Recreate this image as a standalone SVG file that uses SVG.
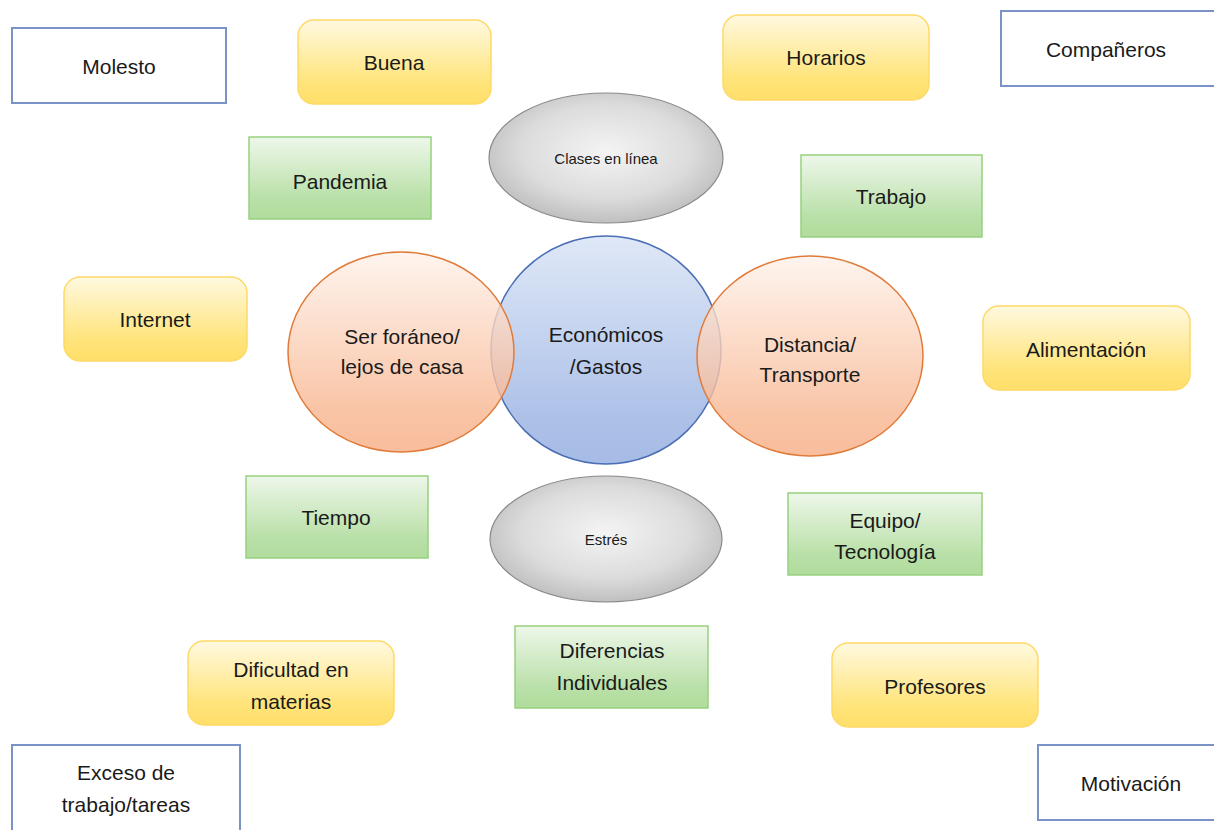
<svg xmlns="http://www.w3.org/2000/svg" width="1214" height="830" viewBox="0 0 1214 830">
<defs>
<linearGradient id="gY" x1="0" y1="0" x2="0" y2="1"><stop offset="0" stop-color="#fff9e0"/><stop offset="0.75" stop-color="#ffe47a"/><stop offset="1" stop-color="#ffdf6a"/></linearGradient>
<linearGradient id="gG" x1="0" y1="0" x2="0" y2="1"><stop offset="0" stop-color="#eef7ea"/><stop offset="0.75" stop-color="#b9e0a8"/><stop offset="1" stop-color="#b0dc9c"/></linearGradient>
<linearGradient id="gO" x1="0" y1="0" x2="0" y2="1"><stop offset="0" stop-color="#fef2ea"/><stop offset="0.8" stop-color="#f8b58f"/><stop offset="1" stop-color="#f6ad84"/></linearGradient>
<linearGradient id="gB" x1="0" y1="0" x2="0" y2="1"><stop offset="0" stop-color="#dfe8f7"/><stop offset="0.8" stop-color="#adc1e8"/><stop offset="1" stop-color="#a6bbe5"/></linearGradient>
<radialGradient id="gS" cx="0.5" cy="0.45" r="0.6"><stop offset="0" stop-color="#f4f4f4"/><stop offset="0.6" stop-color="#dcdcdc"/><stop offset="1" stop-color="#b8b8b8"/></radialGradient>
<style>
.t{font-family:"Liberation Sans","Open Sans",sans-serif;font-size:21px;fill:#1a1a1a;text-anchor:middle}
.s{font-size:15px}
.w{fill:#fff;stroke:#7a92c6;stroke-width:2}
.y{fill:url(#gY);stroke:#ffd966;stroke-width:1.5}
.g{fill:url(#gG);stroke:#97d17f;stroke-width:1.5}
.o{fill:url(#gO);stroke:#e07b39;stroke-width:1.5;fill-opacity:0.8}
.b{fill:url(#gB);stroke:#4a6db3;stroke-width:1.5}
.e{fill:url(#gS);stroke:#8a8a8a;stroke-width:1.2}
</style>
</defs>
<rect width="1214" height="830" fill="#fff"/>
<g id="connectors"/>
<g id="molesto"><rect class="w" x="12" y="28" width="214" height="75"/><text class="t" x="119" y="74">Molesto</text></g>
<g id="buena"><rect class="y" x="298" y="20" width="193" height="84" rx="16"/><text class="t" x="394" y="70">Buena</text></g>
<g id="pandemia"><rect class="g" x="249" y="137" width="182" height="82"/><text class="t" x="340" y="189">Pandemia</text></g>
<g id="horarios"><rect class="y" x="723" y="15" width="206" height="85" rx="16"/><text class="t" x="826" y="65">Horarios</text></g>
<g id="companeros"><rect class="w" x="1001" y="11" width="220" height="75"/><text class="t" x="1106" y="57">Compañeros</text></g>
<g id="trabajo"><rect class="g" x="801" y="155" width="181" height="82"/><text class="t" x="891" y="204">Trabajo</text></g>
<g id="clases"><ellipse class="e" cx="606" cy="158" rx="117" ry="65"/><text class="t s" x="606" y="164">Clases en línea</text></g>
<g id="internet"><rect class="y" x="64" y="277" width="183" height="84" rx="16"/><text class="t" x="155" y="327">Internet</text></g>
<g id="economicos"><ellipse class="b" cx="606" cy="350" rx="115" ry="114"/><text class="t" x="606" y="342">Económicos</text><text class="t" x="606" y="374">/Gastos</text></g>
<g id="foraneo"><ellipse class="o" cx="401" cy="352" rx="113" ry="100"/><text class="t" x="402" y="344">Ser foráneo/</text><text class="t" x="402" y="374">lejos de casa</text></g>
<g id="distancia"><ellipse class="o" cx="810" cy="356" rx="113" ry="100"/><text class="t" x="810" y="352">Distancia/</text><text class="t" x="810" y="382">Transporte</text></g>
<g id="alimentacion"><rect class="y" x="983" y="306" width="207" height="84" rx="16"/><text class="t" x="1086" y="357">Alimentación</text></g>
<g id="tiempo"><rect class="g" x="246" y="476" width="182" height="82"/><text class="t" x="336" y="525">Tiempo</text></g>
<g id="estres"><ellipse class="e" cx="606" cy="539" rx="116" ry="63"/><text class="t s" x="606" y="545">Estrés</text></g>
<g id="equipo"><rect class="g" x="788" y="493" width="194" height="82"/><text class="t" x="885" y="528">Equipo/</text><text class="t" x="885" y="559">Tecnología</text></g>
<g id="diferencias"><rect class="g" x="515" y="626" width="193" height="82"/><text class="t" x="612" y="658">Diferencias</text><text class="t" x="612" y="690">Individuales</text></g>
<g id="dificultad"><rect class="y" x="188" y="641" width="206" height="84" rx="16"/><text class="t" x="291" y="677">Dificultad en</text><text class="t" x="291" y="709">materias</text></g>
<g id="profesores"><rect class="y" x="832" y="643" width="206" height="84" rx="16"/><text class="t" x="935" y="694">Profesores</text></g>
<g id="exceso"><rect class="w" x="12" y="745" width="228" height="100"/><text class="t" x="126" y="780">Exceso de</text><text class="t" x="126" y="812">trabajo/tareas</text></g>
<g id="motivacion"><rect class="w" x="1038" y="745" width="190" height="75"/><text class="t" x="1131" y="791">Motivación</text></g>
</svg>
